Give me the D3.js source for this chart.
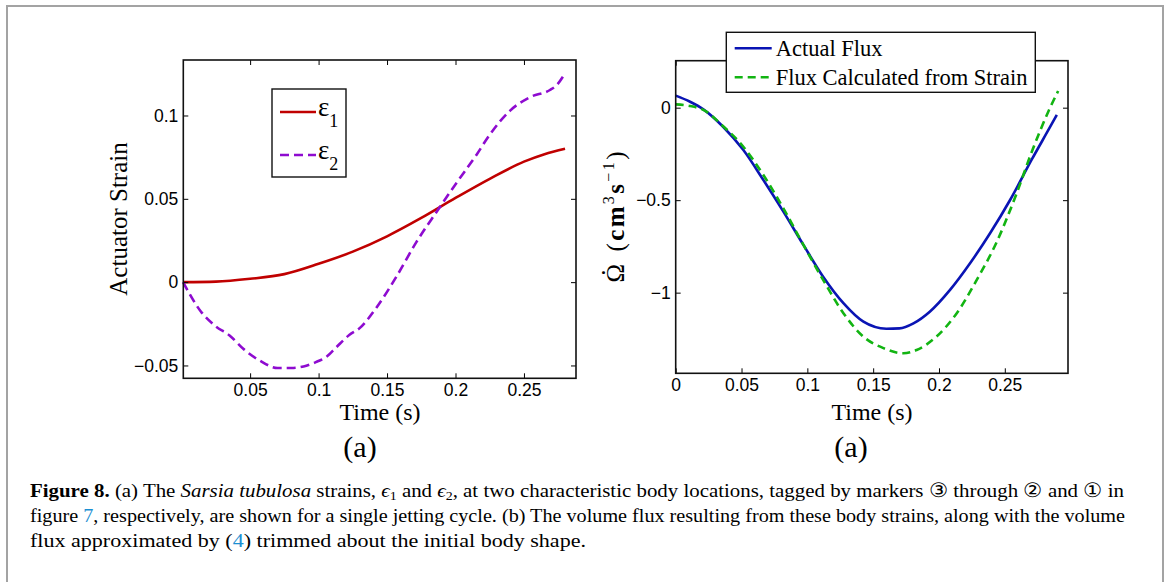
<!DOCTYPE html>
<html lang="en">
<head>
<meta charset="utf-8">
<style>
  body { margin: 0; background: #fff; }
  svg { display: block; }
  .tick text { font-family: "Liberation Sans", Arial, sans-serif; font-size: 17.5px; fill: #000; }
  .tick line { stroke: #000; stroke-width: 1; }
  .domain { display: none; }
  .serif { font-family: "Liberation Serif", "Times New Roman", serif; fill: #000; }
</style>
</head>
<body>
<svg width="1171" height="582"></svg>
<script src="https://cdn.jsdelivr.net/npm/d3@7"></script>
<script>

// ---- panel (a): actuator strains ----
var eps1Time = [0.001, 0.025, 0.05, 0.075, 0.1, 0.125, 0.15, 0.175, 0.2, 0.225, 0.25, 0.265, 0.28];
var eps1 = [0, 0.0003, 0.002, 0.0048, 0.011, 0.0183, 0.0275, 0.0385, 0.0505, 0.062, 0.0723, 0.0768, 0.080];

var eps2Time = [0.001, 0.014, 0.025, 0.035, 0.045, 0.057, 0.070, 0.080, 0.089, 0.098, 0.106, 0.113, 0.1226,
                0.130, 0.142, 0.157, 0.1714, 0.186, 0.2007, 0.2154, 0.225, 0.2397, 0.2544, 0.269, 0.274, 0.280];
var eps2 = [0, -0.0176, -0.0266, -0.032, -0.040, -0.047, -0.0515, -0.0515, -0.0506, -0.048, -0.0446, -0.039, -0.0316,
            -0.0276, -0.0156, 0.0035, 0.024, 0.042, 0.0595, 0.0765, 0.0885, 0.1028, 0.1110, 0.1153, 0.1183, 0.1253];

var strainXTicks = [0.05, 0.1, 0.15, 0.2, 0.25];
var strainYTicks = [-0.05, 0, 0.05, 0.1];

// ---- panel (b): volume flux ----
var fluxTime = [0, 0.0109, 0.021, 0.036, 0.0514, 0.0666, 0.0818, 0.097, 0.112, 0.1274, 0.1426, 0.160, 0.170,
                0.1806, 0.193, 0.2084, 0.2236, 0.2388, 0.254, 0.2705, 0.2845, 0.2895];
var fluxActual = [0.065, 0.032, -0.009, -0.103, -0.229, -0.391, -0.562, -0.742, -0.914, -1.057, -1.157, -1.195, -1.193,
                  -1.166, -1.103, -0.985, -0.841, -0.679, -0.499, -0.28, -0.103, -0.039];

var calcTime = [0, 0.011, 0.021, 0.036, 0.0514, 0.0666, 0.0818, 0.097, 0.112, 0.1274, 0.1426, 0.1578, 0.173,
                0.183, 0.198, 0.2135, 0.2287, 0.244, 0.259, 0.2705, 0.2844, 0.2905];
var fluxCalc = [0.018, 0.009, -0.012, -0.10, -0.211, -0.364, -0.544, -0.742, -0.931, -1.111, -1.238, -1.30, -1.328,
                -1.31, -1.238, -1.111, -0.931, -0.724, -0.463, -0.238, 0.0, 0.09];

var fluxXTicks = [0, 0.05, 0.1, 0.15, 0.2, 0.25];
var fluxYTicks = [-1, -0.5, 0];

var svg = d3.select("svg");

// outer figure frame
svg.append("rect")
    .attr("x", 7).attr("y", 6)
    .attr("width", 1156).attr("height", 620)
    .attr("fill", "none")
    .attr("stroke", "#a3a3a3")
    .attr("stroke-width", 2);

function fmt(d) {
    return d < 0 ? "\u2212" + String(-d) : String(d);
}

function drawAxes(x, y, xt, yt) {
    var g = svg.append("g");
    var x0 = x.range()[0], x1 = x.range()[1], y0 = y.range()[0], y1 = y.range()[1];

    g.append("g").attr("transform", "translate(0," + y0 + ")")
        .call(d3.axisBottom(x).tickValues(xt).tickSize(-5).tickPadding(5).tickFormat(fmt));
    g.append("g").attr("transform", "translate(0," + y1 + ")")
        .call(d3.axisTop(x).tickValues(xt).tickSize(-5).tickFormat(""));
    g.append("g").attr("transform", "translate(" + x0 + ",0)")
        .call(d3.axisLeft(y).tickValues(yt).tickSize(-5).tickPadding(5).tickFormat(fmt));
    g.append("g").attr("transform", "translate(" + x1 + ",0)")
        .call(d3.axisRight(y).tickValues(yt).tickSize(-5).tickFormat(""));

    g.append("rect")
        .attr("x", x0).attr("y", y1)
        .attr("width", x1 - x0).attr("height", y0 - y1)
        .attr("fill", "none")
        .attr("stroke", "#111")
        .attr("stroke-width", 1.6);
    return g;
}

function addLine(x, y, ts, vs, color, dash) {
    var line = d3.line()
        .x(function (d) { return x(d[0]); })
        .y(function (d) { return y(d[1]); })
        .curve(d3.curveMonotoneX);
    svg.append("path")
        .datum(d3.zip(ts, vs))
        .attr("d", line)
        .attr("fill", "none")
        .attr("stroke", color)
        .attr("stroke-width", 2.6)
        .attr("stroke-dasharray", dash || null);
}

// ---------- left panel ----------
var xa = d3.scaleLinear().domain([0.0012, 0.288]).range([183.3, 576]);
var ya = d3.scaleLinear().domain([-0.0577, 0.1333]).range([378.3, 60]);

addLine(xa, ya, eps1Time, eps1, "#c00000");
addLine(xa, ya, eps2Time, eps2, "#8e0bd0", "9,5");
drawAxes(xa, ya, strainXTicks, strainYTicks);

// legend (a)
var lga = svg.append("g");
lga.append("rect").attr("x", 272).attr("y", 89).attr("width", 74).attr("height", 88)
    .attr("fill", "#fff").attr("stroke", "#111").attr("stroke-width", 1.4);
[["#c00000", null, "1", 112], ["#8e0bd0", "9,5", "2", 155]].forEach(function (e) {
    lga.append("line").attr("x1", 280).attr("x2", 316).attr("y1", e[3]).attr("y2", e[3])
        .attr("stroke", e[0]).attr("stroke-width", 2.6).attr("stroke-dasharray", e[1]);
    var t = lga.append("text").attr("class", "serif").attr("x", 318).attr("y", e[3] + 4)
        .style("font-size", "27px");
    t.append("tspan").text("\u03b5");
    t.append("tspan").attr("dy", 11).style("font-size", "18px").text(e[2]);
});

svg.append("text").attr("class", "serif")
    .attr("transform", "translate(127,219) rotate(-90)")
    .attr("text-anchor", "middle").style("font-size", "25px")
    .text("Actuator Strain");
svg.append("text").attr("class", "serif")
    .attr("x", 380).attr("y", 420).attr("text-anchor", "middle").style("font-size", "24px")
    .text("Time (s)");
svg.append("text").attr("class", "serif")
    .attr("x", 360).attr("y", 457).attr("text-anchor", "middle").style("font-size", "30px")
    .text("(a)");

// ---------- right panel ----------
var xb = d3.scaleLinear().domain([0, 0.298]).range([675.7, 1068]);
var yb = d3.scaleLinear().domain([-1.436, 0.254]).range([373.3, 60.7]);

addLine(xb, yb, fluxTime, fluxActual, "#0a14b4");
addLine(xb, yb, calcTime, fluxCalc, "#12b412", "8,5");
drawAxes(xb, yb, fluxXTicks, fluxYTicks);

// legend (b)
var lgb = svg.append("g");
lgb.append("rect").attr("x", 726.3).attr("y", 32.3).attr("width", 309).attr("height", 60)
    .attr("fill", "#fff").attr("stroke", "#111").attr("stroke-width", 1.4);
[["#0a14b4", null, "Actual Flux", 48.3], ["#12b412", "8,5", "Flux Calculated from Strain", 77.3]].forEach(function (e) {
    lgb.append("line").attr("x1", 734.7).attr("x2", 771.7).attr("y1", e[3]).attr("y2", e[3])
        .attr("stroke", e[0]).attr("stroke-width", 2.6).attr("stroke-dasharray", e[1]);
    lgb.append("text").attr("class", "serif").attr("x", 775.7).attr("y", e[3] + 8)
        .style("font-size", "22.5px").text(e[2]);
});

// y label of (b): Omega-dot (cm^3 s^-1)
var ylg = svg.append("g").attr("transform", "translate(624,217) rotate(-90)");
var yl = ylg.append("text").attr("class", "serif")
    .attr("x", -65.5).attr("textLength", 131).attr("lengthAdjust", "spacing")
    .style("font-size", "25px");
yl.append("tspan").text("\u03a9");
yl.append("tspan").attr("dx", 10).text("(");
yl.append("tspan").style("font-weight", "bold").text("cm");
yl.append("tspan").attr("dy", -10).style("font-size", "16px").text("3");
yl.append("tspan").attr("dy", 10).style("font-weight", "bold").text("s");
yl.append("tspan").attr("dy", -10).style("font-size", "16px").text("\u22121");
yl.append("tspan").attr("dy", 10).text(")");
// time-derivative dot over the Omega
ylg.append("text").attr("class", "serif")
    .attr("x", -55.5).attr("y", -19).attr("text-anchor", "middle")
    .style("font-size", "25px").text(".");

svg.append("text").attr("class", "serif")
    .attr("x", 872).attr("y", 420).attr("text-anchor", "middle").style("font-size", "24px")
    .text("Time (s)");
svg.append("text").attr("class", "serif")
    .attr("x", 851).attr("y", 457).attr("text-anchor", "middle").style("font-size", "30px")
    .text("(a)");

// ---------- caption ----------
var linkColor = "#1b8fd2";
var cap = svg.append("g").attr("class", "serif").style("font-size", "19.5px");

var l1 = cap.append("text").attr("x", 30).attr("y", 497)
    .attr("textLength", 1094).attr("lengthAdjust", "spacingAndGlyphs");
l1.append("tspan").style("font-weight", "bold").text("Figure 8.");
l1.append("tspan").text(" (a) The ");
l1.append("tspan").style("font-style", "italic").text("Sarsia tubulosa");
l1.append("tspan").text(" strains, ");
l1.append("tspan").style("font-style", "italic").text("\u03f5");
l1.append("tspan").attr("dy", 3).style("font-size", "13px").text("1");
l1.append("tspan").attr("dy", -3).text(" and ");
l1.append("tspan").style("font-style", "italic").text("\u03f5");
l1.append("tspan").attr("dy", 3).style("font-size", "13px").text("2");
l1.append("tspan").attr("dy", -3).text(", at two characteristic body locations, tagged by markers \u2462 through \u2461 and \u2460 in");

var l2 = cap.append("text").attr("x", 30).attr("y", 522)
    .attr("textLength", 1095).attr("lengthAdjust", "spacingAndGlyphs");
l2.append("tspan").text("figure ");
l2.append("tspan").style("fill", linkColor).text("7");
l2.append("tspan").text(", respectively, are shown for a single jetting cycle. (b) The volume flux resulting from these body strains, along with the volume");

var l3 = cap.append("text").attr("x", 30).attr("y", 547)
    .attr("textLength", 556).attr("lengthAdjust", "spacingAndGlyphs");
l3.append("tspan").text("flux approximated by (");
l3.append("tspan").style("fill", linkColor).text("4");
l3.append("tspan").text(") trimmed about the initial body shape.");

</script>
</body>
</html>
